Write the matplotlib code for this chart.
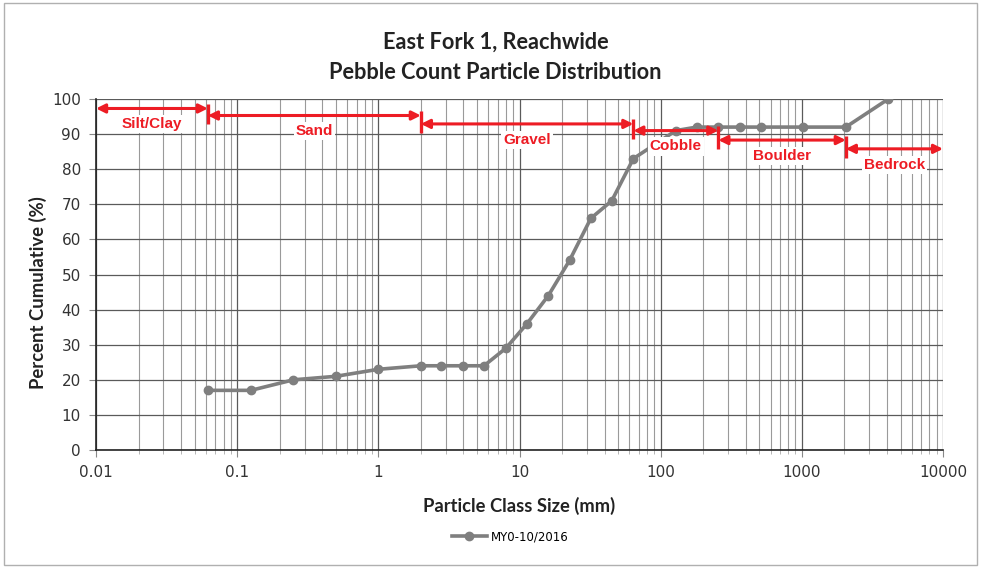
import matplotlib
matplotlib.use("Agg")
import matplotlib.pyplot as plt
import numpy as np
from matplotlib.patches import Rectangle
from matplotlib.ticker import LogLocator, FixedLocator, NullFormatter

# particle class size (mm) and cumulative percent
size_mm = [0.062, 0.125, 0.25, 0.5, 1, 2, 2.8, 4, 5.6, 8, 11.3, 16, 22.6, 32, 45,
           64, 128, 180, 256, 362, 512, 1024, 2048, 4096]
cum_pct = [17, 17, 20, 21, 23, 24, 24, 24, 24, 29, 36, 44, 54, 66, 71,
           83, 91, 92, 92, 92, 92, 92, 92, 100]

# size classes shown with red arrows
class_names = ["Silt/Clay", "Sand", "Gravel", "Cobble", "Boulder", "Bedrock"]
class_bounds = [0.01, 0.062, 2, 64, 256, 2048, 10000]
arrow_level = [97.3, 95.3, 92.9, 91.0, 88.3, 85.8]

series_name = "MY0-10/2016"
red = "#ed1c24"
grey = "#7f7f7f"

fig = plt.figure(figsize=(9.81, 5.68), dpi=100)
ax = fig.add_axes([0.0979, 0.2077, 0.8634, 0.618])

fig.patches.append(Rectangle((0.004, 0.006), 0.992, 0.988, transform=fig.transFigure,
                             fill=False, edgecolor="#b0b0b0", linewidth=1.0))

ax.set_xscale("log")
ax.set_xlim(0.01, 10000)
ax.set_ylim(0, 100)
ax.set_yticks(np.arange(0, 101, 10))
ax.xaxis.set_major_locator(FixedLocator([0.01, 0.1, 1, 10, 100, 1000, 10000]))
ax.set_xticklabels(["0.01", "0.1", "1", "10", "100", "1000", "10000"])
ax.xaxis.set_minor_locator(LogLocator(base=10, subs=np.arange(2, 10)))
ax.xaxis.set_minor_formatter(NullFormatter())

ax.grid(True, which="major", color="#5a5a5a", linewidth=0.9)
ax.grid(True, which="minor", axis="x", color="#9a9a9a", linewidth=0.8)
ax.set_axisbelow(True)

for side in ["top", "right"]:
    ax.spines[side].set_visible(False)
for side in ["bottom", "left"]:
    ax.spines[side].set_color("#222222")
    ax.spines[side].set_linewidth(1.2)
ax.tick_params(axis="both", which="major", labelsize=11, length=5, color="#888888",
               labelcolor="#333333")
ax.tick_params(axis="x", which="minor", length=3, color="#aaaaaa")
ax.tick_params(axis="y", pad=6)
ax.tick_params(axis="x", pad=6)

ax.plot(size_mm, cum_pct, color=grey, linewidth=2.6, marker="o", markersize=6,
        label=series_name, zorder=3)

for i, name in enumerate(class_names):
    x0, x1 = class_bounds[i], class_bounds[i + 1]
    y = arrow_level[i]
    ax.annotate("", xy=(x1, y), xytext=(x0, y),
                arrowprops=dict(arrowstyle="<|-|>", color=red, lw=2.2,
                                mutation_scale=13, shrinkA=0, shrinkB=0),
                zorder=5)
    if i < len(class_names) - 1:
        top = y + 1.3
        bottom = arrow_level[i + 1] - 2.5
        ax.plot([x1, x1], [bottom, top], color=red, linewidth=2.4, zorder=5,
                solid_capstyle="butt")
    xm = np.sqrt(x0 * x1)
    ax.text(xm, y - 4.5, name, color=red, fontsize=11, fontweight="bold",
            family="Liberation Sans", ha="center", va="center", zorder=4,
            bbox=dict(facecolor="white", edgecolor="none", pad=1.5))

fig.text(0.505, 0.899, "East Fork 1, Reachwide\nPebble Count Particle Distribution",
         ha="center", va="center", fontsize=15.7, fontweight="bold",
         family="Lato", linespacing=1.6, color="#222222")
ax.set_xlabel("Particle Class Size (mm)", fontsize=13.2, fontweight="bold",
              family="Lato", labelpad=12, color="#222222")
ax.set_ylabel("Percent Cumulative (%)", fontsize=13.3, fontweight="bold",
              family="Lato", color="#222222", va="center")
ax.yaxis.set_label_coords(-0.0685, 0.447)

leg = fig.legend(loc="center", bbox_to_anchor=(0.52, 0.055), frameon=False,
                 fontsize=8.5, handlelength=3.0, handletextpad=0.3)

fig.savefig("out.png", dpi=100)
